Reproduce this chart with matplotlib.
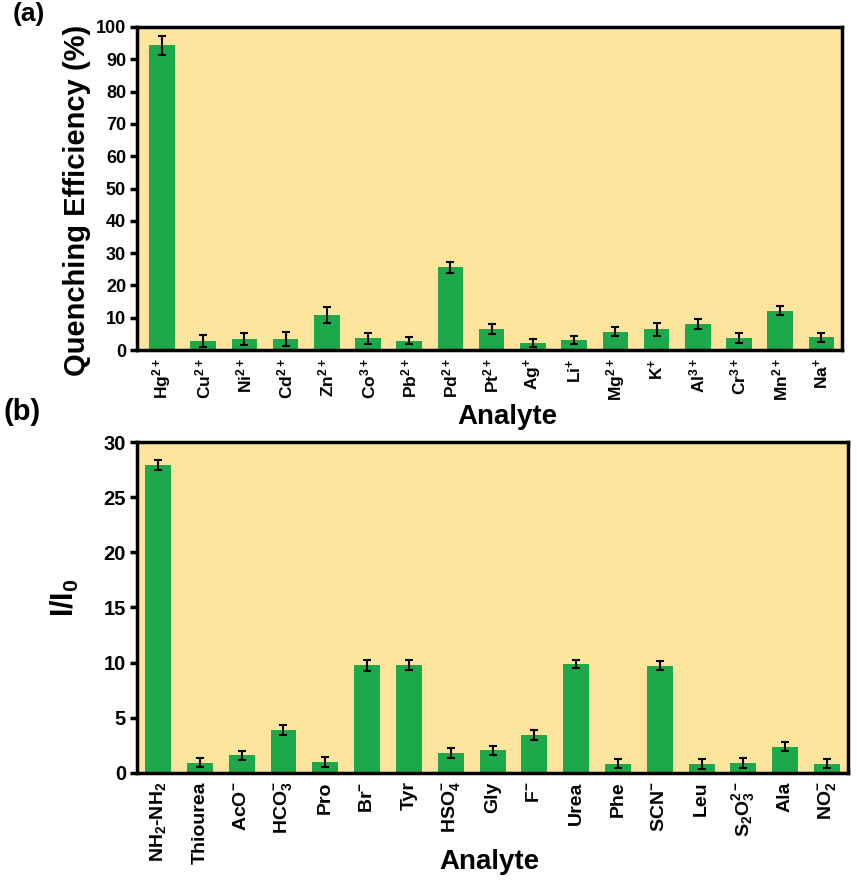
import matplotlib
matplotlib.use("Agg")
import matplotlib.pyplot as plt
import numpy as np

plt.rcParams['font.family'] = ['Liberation Sans', 'DejaVu Sans']
plt.rcParams['font.weight'] = 'bold'
plt.rcParams['mathtext.fontset'] = 'custom'
plt.rcParams['mathtext.rm'] = 'Liberation Sans:bold'
plt.rcParams['mathtext.bf'] = 'Liberation Sans:bold'
plt.rcParams['mathtext.it'] = 'Liberation Sans:bold'
plt.rcParams['mathtext.default'] = 'rm'

# Panel (a)
labels_a = ['$Hg^{2+}$', '$Cu^{2+}$', '$Ni^{2+}$', '$Cd^{2+}$', '$Zn^{2+}$', '$Co^{3+}$',
            '$Pb^{2+}$', '$Pd^{2+}$', '$Pt^{2+}$', '$Ag^{+}$', '$Li^{+}$', '$Mg^{2+}$',
            '$K^{+}$', '$Al^{3+}$', '$Cr^{3+}$', '$Mn^{2+}$', '$Na^{+}$']
values_a = [94.3, 2.9, 3.5, 3.5, 10.8, 3.6, 2.9, 25.6, 6.5, 2.1, 3.1, 5.7, 6.5, 8.0, 3.7, 12.2, 3.9]
errors_a = [3.0, 1.8, 1.9, 2.2, 2.4, 1.6, 1.1, 1.8, 1.5, 1.2, 1.3, 1.5, 2.0, 1.5, 1.6, 1.5, 1.3]
yticks_a = [0, 10, 20, 30, 40, 50, 60, 70, 80, 90, 100]

# Panel (b)
labels_b = ['NH$_2$-NH$_2$', 'Thiourea', '$AcO^{-}$', '$HCO_3^{-}$', 'Pro', '$Br^{-}$', 'Tyr',
            '$HSO_4^{-}$', 'Gly', '$F^{-}$', 'Urea', 'Phe', '$SCN^{-}$', 'Leu',
            '$S_2O_3^{2-}$', 'Ala', '$NO_2^{-}$']
values_b = [27.9, 0.94, 1.6, 3.87, 1.0, 9.76, 9.8, 1.82, 2.07, 3.43, 9.88, 0.85, 9.73, 0.85, 0.91, 2.37, 0.85]
errors_b = [0.45, 0.42, 0.42, 0.45, 0.42, 0.48, 0.48, 0.42, 0.4, 0.45, 0.33, 0.4, 0.42, 0.45, 0.42, 0.42, 0.4]
yticks_b = [0, 5, 10, 15, 20, 25, 30]

bar_color = '#1ca84b'
bg_color = '#fde59d'

fig = plt.figure(figsize=(8.57, 8.84), dpi=100)
ax1 = fig.add_axes([0.160, 0.604, 0.8225, 0.3655])
ax2 = fig.add_axes([0.160, 0.1256, 0.8295, 0.3744])

def style(ax, labels, values, errors, yticks, ymax, xlim, ytick_fs, xtick_fs):
    x = np.arange(len(labels))
    ax.set_facecolor(bg_color)
    ax.bar(x, values, width=0.62, color=bar_color, zorder=2)
    ax.errorbar(x, values, yerr=errors, fmt='none', ecolor='black', elinewidth=1.5,
                capsize=3, capthick=1.5, zorder=3)
    ax.set_xlim(*xlim)
    ax.set_ylim(0, ymax)
    ax.set_yticks(yticks)
    ax.set_yticklabels([str(t) for t in yticks], fontsize=ytick_fs, fontweight='bold')
    ax.set_xticks(x)
    ax.set_xticklabels(labels, rotation=90, fontsize=xtick_fs, fontweight='bold')
    ax.tick_params(axis='x', length=0, pad=6)
    ax.tick_params(axis='y', length=5, width=2.5, direction='out', pad=3)
    for s in ax.spines.values():
        s.set_linewidth(2.5)
        s.set_color('black')

style(ax1, labels_a, values_a, errors_a, yticks_a, 100, (-0.6, 16.5), 13, 12.5)
style(ax2, labels_b, values_b, errors_b, yticks_b, 30, (-0.5, 16.5), 14.5, 14)

ax1.set_ylabel('Quenching Efficiency (%)', fontsize=21, fontweight='bold', va='center')
ax1.yaxis.set_label_coords(-0.085, 0.464)
ax2.set_ylabel('I/I$_0$', fontsize=22, fontweight='bold', va='center')
ax2.yaxis.set_label_coords(-0.101, 0.529)
ax1.set_xlabel('Analyte', fontsize=20, fontweight='bold', va='center')
ax1.xaxis.set_label_coords(0.525, -0.207)
ax2.set_xlabel('Analyte', fontsize=20, fontweight='bold', va='center')
ax2.xaxis.set_label_coords(0.496, -0.269)

fig.text(0.015, 0.998, '(a)', fontsize=19, fontweight='bold', va='top')
fig.text(0.004, 0.55, '(b)', fontsize=21, fontweight='bold', va='top')

fig.savefig('out.png', dpi=100)
